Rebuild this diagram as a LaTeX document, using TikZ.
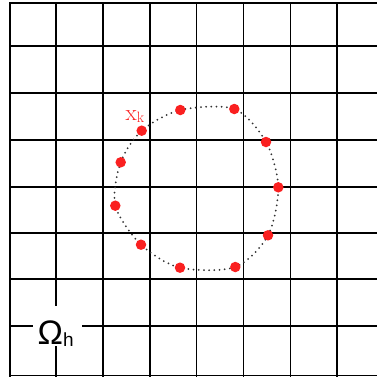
\documentclass[tikz,border=0pt]{standalone}
\usepackage{fontspec}
\newfontfamily\omegafont{Liberation Sans}
\definecolor{ptred}{RGB}{250,32,32}
\definecolor{dotgray}{RGB}{50,50,50}
\begin{document}
\begin{tikzpicture}[x=1pt,y=-1pt,
  gridline/.style={line width=1.9pt,black},
  ptnode/.style={circle,fill=ptred,inner sep=0pt,minimum size=10.5pt},
  curvestyle/.style={dotgray,line width=2pt,line cap=round,dash pattern=on 0pt off 5.2pt}]
\useasboundingbox (0,0) rectangle (376,378);
% grid
\foreach \gx in {10,56,103.3,150,196.5,243.5,290.5,337.3}
  \draw[gridline] (\gx,2.7) -- (\gx,376.5);
\foreach \gy in {2.7,46,93.3,140,187.3,233,279.3,326,375.5}
  \draw[gridline] (9.05,\gy) -- (377,\gy);
% label Omega_h
\node[fill=white,minimum width=49pt,minimum height=40pt,inner sep=0pt] (gap) at (57.5,326) {};
\node[anchor=base west,inner sep=0pt] (omegalabel) at (37.5,344)
  {\omegafont\fontsize{34}{34}\selectfont Ω\raisebox{-2pt}{\fontsize{19}{19}\selectfont h}};
% points
\coordinate (c1) at (141.7,130.7);
\coordinate (c2) at (180.3,110);
\coordinate (c3) at (234.3,109);
\coordinate (c4) at (266,142);
\coordinate (c5) at (278.3,187.3);
\coordinate (c6) at (268,235.3);
\coordinate (c7) at (235.3,267);
\coordinate (c8) at (180,267.7);
\coordinate (c9) at (141,244.7);
\coordinate (c10) at (115.3,205.7);
\coordinate (c11) at (120.7,162.3);
\draw[curvestyle] plot[smooth cycle] coordinates {(c1) (c2) (c3) (c4) (c5) (c6) (c7) (c8) (c9) (c10) (c11)};
\foreach \i in {1,...,11}
  \node[ptnode] (p\i) at (c\i) {};
% x_k label
\node[anchor=base west,inner sep=0pt,text=ptred] (xk) at (125.5,120)
  {\fontsize{23}{23}\selectfont x\raisebox{-2.3pt}{\fontsize{15}{15}\selectfont k}};
\end{tikzpicture}
\end{document}
